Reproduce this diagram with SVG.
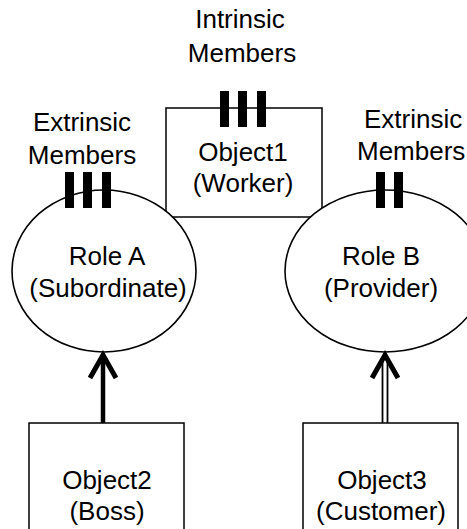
<svg xmlns="http://www.w3.org/2000/svg" width="467" height="529" viewBox="0 0 467 529">
  <style>
    .box { fill: #fff; stroke: #000; stroke-width: 1.5; }
    .role { fill: #fff; stroke: #000; stroke-width: 1.6; }
    .bar { fill: #000; }
    .lbl { font-family: "Liberation Sans", Arial, sans-serif; font-size: 26px; fill: #000; }
    .mid { text-anchor: middle; }
    .thick { stroke: #000; stroke-width: 4.5; fill: none; }
    .thin { stroke: #000; stroke-width: 1.8; fill: none; }
    .head { stroke: #000; stroke-width: 5; fill: none; stroke-linecap: butt; stroke-linejoin: miter; }
  </style>
  <rect width="467" height="529" fill="#fff"/>

  <!-- member labels -->
  <g id="intrinsic-label">
    <text class="lbl mid" x="240" y="28">Intrinsic</text>
    <text class="lbl mid" x="242" y="62">Members</text>
  </g>
  <g id="extrinsic-label-a">
    <text class="lbl mid" x="82" y="131">Extrinsic</text>
    <text class="lbl mid" x="82" y="164">Members</text>
  </g>
  <g id="extrinsic-label-b">
    <text class="lbl" x="364" y="128">Extrinsic</text>
    <text class="lbl" x="357" y="160">Members</text>
  </g>

  <!-- Object1 with intrinsic members -->
  <g id="object1">
    <rect class="box" x="166" y="108" width="156" height="109"/>
    <rect class="bar" x="220" y="91" width="9" height="36"/>
    <rect class="bar" x="238" y="91" width="9" height="36"/>
    <rect class="bar" x="257" y="91" width="9" height="36"/>
    <text class="lbl mid" x="243" y="161">Object1</text>
    <text class="lbl mid" x="243" y="192">(Worker)</text>
  </g>

  <!-- Role A with extrinsic members -->
  <g id="role-a">
    <ellipse class="role" cx="104" cy="271" rx="92" ry="81"/>
    <rect class="bar" x="65" y="172" width="9" height="36"/>
    <rect class="bar" x="83" y="172" width="9" height="36"/>
    <rect class="bar" x="102" y="172" width="9" height="36"/>
    <text class="lbl mid" x="107" y="265">Role A</text>
    <text class="lbl mid" x="108" y="297">(Subordinate)</text>
  </g>

  <!-- Role B with extrinsic members -->
  <g id="role-b">
    <ellipse class="role" cx="385" cy="271" rx="100" ry="81"/>
    <rect class="bar" x="376" y="172" width="9" height="36"/>
    <rect class="bar" x="394" y="172" width="9" height="36"/>
    <text class="lbl mid" x="381" y="265">Role B</text>
    <text class="lbl mid" x="381" y="297">(Provider)</text>
  </g>

  <!-- players -->
  <g id="object2">
    <rect class="box" x="29" y="423" width="155" height="120"/>
    <text class="lbl mid" x="107" y="489">Object2</text>
    <text class="lbl mid" x="107" y="520">(Boss)</text>
  </g>
  <g id="object3">
    <rect class="box" x="303" y="423" width="155" height="120"/>
    <text class="lbl mid" x="382" y="489">Object3</text>
    <text class="lbl mid" x="381" y="520">(Customer)</text>
  </g>

  <!-- connectors: single thick shaft and double-line shaft, open chevron heads -->
  <g id="connectors">
    <line class="thick" x1="103" y1="423" x2="103" y2="356"/>
    <polyline class="head" points="90,378 103,355 116,378"/>
    <line class="thin" x1="382.5" y1="423" x2="382.5" y2="358"/>
    <line class="thin" x1="387.5" y1="423" x2="387.5" y2="358"/>
    <polyline class="head" points="372,378 385,355 398,378"/>
  </g>
</svg>
